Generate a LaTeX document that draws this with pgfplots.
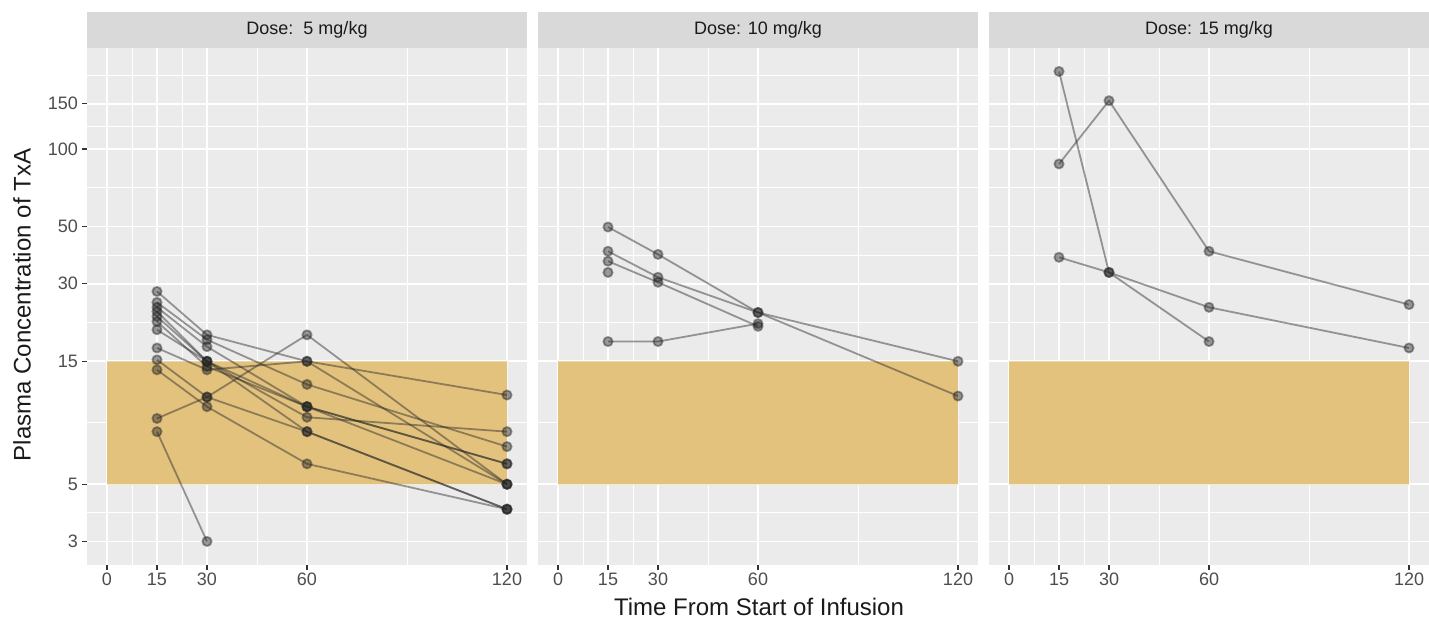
\documentclass[border=0pt]{standalone}
\usepackage{pgfplots}
\pgfplotsset{compat=1.18}
\usepackage{fontspec}
\setmainfont{Liberation Sans}
\definecolor{bgcol}{HTML}{EBEBEB}
\definecolor{stripcol}{HTML}{D9D9D9}
\definecolor{ribcol}{HTML}{E3C27E}
\definecolor{txtdark}{HTML}{1A1A1A}
\definecolor{ticklab}{HTML}{4D4D4D}
\definecolor{tickcol}{HTML}{333333}
\tikzset{
  mystrip/.style={fill=stripcol, minimum width=440pt, minimum height=36pt, anchor=south, inner sep=0pt, text=txtdark, font=\fontsize{18}{20}\selectfont},
  mysubj/.style={color=black!85, opacity=0.45, line width=1.8pt, mark=*, mark size=4.6pt, mark options={draw=none}},
}
\begin{document}
\begin{tikzpicture}
\useasboundingbox (0,0) rectangle (1429pt,624pt);
% Panel 1
\begin{axis}[at={(87pt,59pt)}, anchor=south west,
    scale only axis, width=440pt, height=517pt,
    xmin=-6, xmax=126, ymode=log, ymin=2.43, ymax=246.6,
    axis background/.style={fill=bgcol},
    axis line style={draw=none},
    xtick={0,15,30,60,120},
    xticklabels={0,15,30,60,120},
    minor xtick={7.5,22.5,45,90},
    ytick={3,5,15,30,50,100,150},
    yticklabels={3,5,15,30,50,100,150},
    minor ytick={3.873,8.660,21.21,38.73,70.71,122.47,193.6},
    grid=both,
    major grid style={white, line width=1.8pt},
    minor grid style={white, line width=0.9pt},
    tick align=outside,
    major tick length=5pt, minor tick length=0pt,
    tick style={draw=tickcol, line width=1.3pt},
    xtick pos=bottom, ytick pos=left,
    xticklabel style={font=\fontsize{18}{20}\selectfont, text=ticklab, inner sep=1pt, yshift=-2pt},
    yticklabel style={font=\fontsize{18}{20}\selectfont, text=ticklab, inner sep=1pt, xshift=-3pt},
    clip=false]
\addplot[fill=ribcol, draw=none] coordinates {(0,5) (120,5) (120,15) (0,15) (0,5)};
\addplot[mysubj] coordinates {(15,28.0) (30,19.0) (60,15.0) (120,11.1)};
\addplot[mysubj] coordinates {(15,25.4) (30,18.2) (60,12.2) (120,7.0)};
\addplot[mysubj] coordinates {(15,24.3) (30,17.1) (60,10.0) (120,6.0)};
\addplot[mysubj] coordinates {(15,23.4) (30,15.0) (60,10.0) (120,5.0)};
\addplot[mysubj] coordinates {(15,22.4) (30,15.0) (60,9.1) (120,8.0)};
\addplot[mysubj] coordinates {(15,21.4) (30,14.3) (60,10.0) (120,6.0)};
\addplot[mysubj] coordinates {(15,19.9) (30,15.0) (60,8.0) (120,4.0)};
\addplot[mysubj] coordinates {(15,16.9) (30,13.9) (60,15.0) (120,5.0)};
\addplot[mysubj] coordinates {(15,15.2) (30,10.9) (60,8.0) (120,4.0)};
\addplot[mysubj] coordinates {(15,13.9) (30,10.0) (60,6.0) (120,4.0)};
\addplot[mysubj] coordinates {(15,9.0) (30,10.9) (60,19.0) (120,5.0)};
\addplot[mysubj] coordinates {(15,8.0) (30,3.0)};
\node[mystrip] at (rel axis cs:0.5,1) {Dose:\ \ 5 mg/kg};
\end{axis}
% Panel 2
\begin{axis}[at={(538pt,59pt)}, anchor=south west,
    scale only axis, width=440pt, height=517pt,
    xmin=-6, xmax=126, ymode=log, ymin=2.43, ymax=246.6,
    axis background/.style={fill=bgcol},
    axis line style={draw=none},
    xtick={0,15,30,60,120},
    xticklabels={0,15,30,60,120},
    minor xtick={7.5,22.5,45,90},
    ytick={3,5,15,30,50,100,150},
    yticklabels={},
    minor ytick={3.873,8.660,21.21,38.73,70.71,122.47,193.6},
    grid=both,
    major grid style={white, line width=1.8pt},
    minor grid style={white, line width=0.9pt},
    tick align=outside,
    major tick length=5pt, minor tick length=0pt,
    tick style={draw=tickcol, line width=1.3pt},
    y tick style={draw=none},
    xtick pos=bottom, ytick pos=left,
    xticklabel style={font=\fontsize{18}{20}\selectfont, text=ticklab, inner sep=1pt, yshift=-2pt},
    clip=false]
\addplot[fill=ribcol, draw=none] coordinates {(0,5) (120,5) (120,15) (0,15) (0,5)};
\addplot[mysubj] coordinates {(15,49.8) (30,39.0) (60,23.2) (120,11.0)};
\addplot[mysubj] coordinates {(15,40.1) (30,31.8) (60,23.2) (120,15.0)};
\addplot[mysubj] coordinates {(15,36.7) (30,30.4) (60,20.5)};
\addplot[mysubj] coordinates {(15,33.2)};
\addplot[mysubj] coordinates {(15,17.9) (30,17.9) (60,21.0)};
\node[mystrip] at (rel axis cs:0.5,1) {Dose: 10 mg/kg};
\end{axis}
% Panel 3
\begin{axis}[at={(989pt,59pt)}, anchor=south west,
    scale only axis, width=440pt, height=517pt,
    xmin=-6, xmax=126, ymode=log, ymin=2.43, ymax=246.6,
    axis background/.style={fill=bgcol},
    axis line style={draw=none},
    xtick={0,15,30,60,120},
    xticklabels={0,15,30,60,120},
    minor xtick={7.5,22.5,45,90},
    ytick={3,5,15,30,50,100,150},
    yticklabels={},
    minor ytick={3.873,8.660,21.21,38.73,70.71,122.47,193.6},
    grid=both,
    major grid style={white, line width=1.8pt},
    minor grid style={white, line width=0.9pt},
    tick align=outside,
    major tick length=5pt, minor tick length=0pt,
    tick style={draw=tickcol, line width=1.3pt},
    y tick style={draw=none},
    xtick pos=bottom, ytick pos=left,
    xticklabel style={font=\fontsize{18}{20}\selectfont, text=ticklab, inner sep=1pt, yshift=-2pt},
    clip=false]
\addplot[fill=ribcol, draw=none] coordinates {(0,5) (120,5) (120,15) (0,15) (0,5)};
\addplot[mysubj] coordinates {(15,200) (30,33.2) (60,17.9)};
\addplot[mysubj] coordinates {(15,87.5) (30,154) (60,40.1) (120,24.9)};
\addplot[mysubj] coordinates {(15,38.0) (30,33.2) (60,24.3) (120,16.9)};
\node[mystrip] at (rel axis cs:0.5,1) {Dose: 15 mg/kg};
\end{axis}
\node[rotate=90, text=txtdark, font=\fontsize{24}{26}\selectfont] at (22pt,319pt) {Plasma Concentration of TxA};
\node[text=txtdark, font=\fontsize{24}{26}\selectfont] at (759pt,17pt) {Time From Start of Infusion};
\end{tikzpicture}
\end{document}
